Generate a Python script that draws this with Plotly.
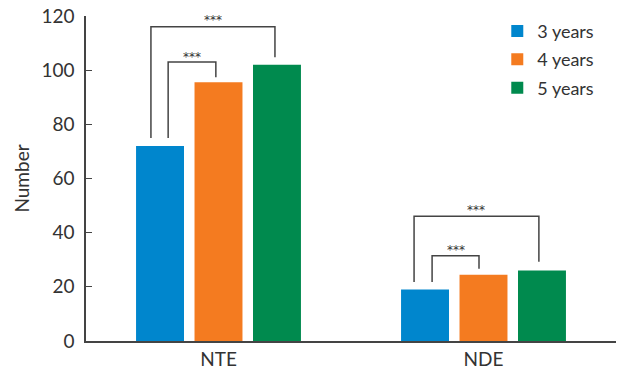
import plotly.graph_objects as go

categories = ["NTE", "NDE"]
series_names = ["3 years", "4 years", "5 years"]
values_3y = [72, 19]
values_4y = [95.5, 24.5]
values_5y = [102, 26]
colors = ["#0086CD", "#F47B20", "#008A4E"]
y_ticks = [0, 20, 40, 60, 80, 100, 120]
sig_label = "***"

font_family = "Lato, Roboto, sans-serif"
star_family = "DejaVu Sans"
text_color = "#333333"
line_color = "#444444"

fig = go.Figure()
for name, vals, col in zip(series_names, [values_3y, values_4y, values_5y], colors):
    fig.add_trace(go.Bar(x=categories, y=vals, name=name, legendgroup=name,
                         marker=dict(color=col, line=dict(width=0))))

# significance brackets: (group index, left offset, right offset, top, left foot, right foot, label y)
brackets = [
    (0, -0.19, -0.01, 103, 75, 97.4, 106.0),
    (0, -0.255, 0.213, 116, 75, 104.8, 119.6),
    (1, -0.194, -0.017, 31.5, 21.8, 26.7, 34.8),
    (1, -0.262, 0.209, 46.1, 21.8, 29.3, 49.6),
]
for g, lo, ro, top, lfoot, rfoot, ly in brackets:
    xl, xr = g + lo, g + ro
    fig.add_shape(type="path", xref="x", yref="y",
                  path=f"M {xl},{lfoot} L {xl},{top} L {xr},{top} L {xr},{rfoot}",
                  line=dict(color=line_color, width=1.5))
    fig.add_annotation(x=(xl + xr) / 2, y=ly, xref="x", yref="y", text=sig_label,
                       showarrow=False, yshift=-3,
                       font=dict(size=12, color=text_color, family=star_family))

fig.update_layout(
    width=619, height=378,
    margin=dict(l=86, r=3, t=16, b=37),
    paper_bgcolor="white", plot_bgcolor="white",
    barmode="group", bargap=0.338, bargroupgap=0.18,
    font=dict(family=font_family, size=19, color=text_color),
    legend=dict(x=0.776, y=1.01, xanchor="left", yanchor="top",
                font=dict(size=18, color=text_color), tracegroupgap=2,
                bgcolor="rgba(0,0,0,0)"),
    showlegend=True,
)
fig.update_xaxes(showline=True, linecolor=line_color, linewidth=1.5, ticks="",
                 tickfont=dict(size=19, color=text_color), range=[-0.5, 1.5])
fig.update_yaxes(range=[0, 120], tickvals=y_ticks, showline=True, linecolor=line_color,
                 linewidth=1.5, ticks="inside", ticklen=6, tickcolor=line_color,
                 showgrid=False, zeroline=False, ticklabelstandoff=6,
                 tickfont=dict(size=19, color=text_color),
                 title=dict(text="Number", font=dict(size=19, color=text_color), standoff=7))

fig.write_html("out.html")
